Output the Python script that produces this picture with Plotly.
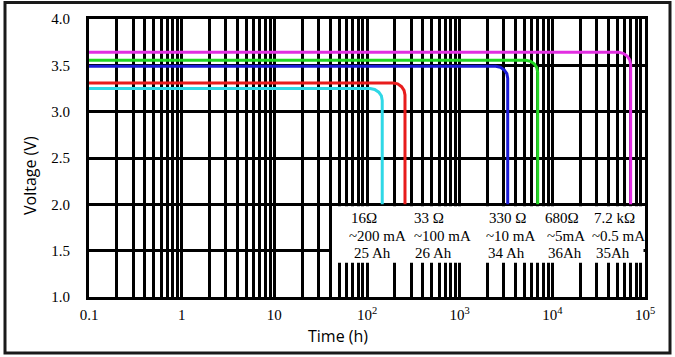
import plotly.graph_objects as go

# ---------------- data ----------------
series_names = ["16 Ω", "33 Ω", "330 Ω", "680 Ω", "7.2 kΩ"]
series_colors = ["#2fd8e6", "#e81c1c", "#1b1bd6", "#22d622", "#e22ee2"]

# discharge curves (flat plateau, rounded knee, drop to 2.0 V)
t_16 = [0.1, 108, 121, 134, 143, 146, 146]
v_16 = [3.25, 3.25, 3.24, 3.21, 3.17, 3.12, 2.0]

t_33 = [0.1, 191, 214, 236, 251, 257, 257]
v_33 = [3.31, 3.31, 3.30, 3.27, 3.23, 3.18, 2.0]

t_330 = [0.1, 2450, 2750, 3030, 3230, 3300, 3300]
v_330 = [3.49, 3.49, 3.48, 3.45, 3.41, 3.36, 2.0]

t_680 = [0.1, 5160, 5780, 6370, 6800, 6950, 6950]
v_680 = [3.555, 3.555, 3.545, 3.517, 3.475, 3.425, 2.0]

t_7k2 = [0.1, 52000, 58200, 64200, 68500, 70000, 70000]
v_7k2 = [3.64, 3.64, 3.63, 3.60, 3.56, 3.51, 2.0]

times = [t_16, t_33, t_330, t_680, t_7k2]
volts = [v_16, v_33, v_330, v_680, v_7k2]

resistances = ["16Ω", "33 Ω", "330 Ω", "680Ω", "7.2 kΩ"]
currents = ["~200 mA", "~100 mA", "~10 mA", "~5mA", "~0.5 mA"]
capacities = ["25 Ah", "26 Ah", "34 Ah", "36Ah", "35Ah"]

decade_labels = ["0.1", "1", "10", "10<sup>2</sup>", "10<sup>3</sup>",
                 "10<sup>4</sup>", "10<sup>5</sup>"]
y_ticks = [1.0, 1.5, 2.0, 2.5, 3.0, 3.5, 4.0]

# ---------------- ticks (grid at every 1..9 x 10^n) ----------------
tickvals, ticktext = [], []
for i, exp in enumerate(range(-1, 5)):
    for m in range(1, 10):
        tickvals.append(m * 10.0 ** exp)
        ticktext.append(decade_labels[i] if m == 1 else " ")
tickvals.append(1e5)
ticktext.append(decade_labels[-1])

SERIF = "Liberation Serif, Times New Roman, serif"
SANS = "Open Sans"

fig = go.Figure()
for name, c, t, v in zip(series_names, series_colors, times, volts):
    fig.add_trace(go.Scatter(x=t, y=v, mode="lines", name=name,
                             line=dict(color=c, width=3),
                             showlegend=False, hoverinfo="skip"))

W, H = 675, 357
L, R, T, B = 89, 30, 19, 60
pw, ph = W - L - R, H - T - B

def px(x):
    return (x - L) / pw

def py(y):
    return (H - B - y) / ph

fig.update_layout(
    width=W, height=H,
    margin=dict(l=L, r=R, t=T, b=B),
    paper_bgcolor="white", plot_bgcolor="white",
    xaxis=dict(type="log", range=[-1, 5], tickmode="array",
               tickvals=tickvals, ticktext=ticktext, tickangle=0,
               showgrid=True, gridcolor="black", gridwidth=2.6,
               showline=True, linecolor="black", linewidth=3, mirror=True,
               ticks="", zeroline=False, ticklabelstandoff=2,
               tickfont=dict(family=SERIF, size=15, color="black")),
    yaxis=dict(range=[1, 4], tickmode="array", tickvals=y_ticks,
               ticktext=[f"{v:.1f}" for v in y_ticks],
               showgrid=True, gridcolor="black", gridwidth=2.8,
               showline=True, linecolor="black", linewidth=3, mirror=True,
               ticks="", zeroline=False, ticklabelstandoff=13,
               tickfont=dict(family=SERIF, size=15, color="black")),
)

# white label box inside the plot
fig.add_shape(type="rect", xref="paper", yref="y",
              x0=px(332), x1=px(643.5), y0=1.37, y1=1.98,
              fillcolor="white", line=dict(width=0), layer="above")

# outer frame
fig.add_shape(type="rect", xref="paper", yref="paper",
              x0=px(5), x1=px(670), y0=py(353), y1=py(2.5),
              line=dict(color="#1a1a1a", width=3), fillcolor="rgba(0,0,0,0)",
              layer="above")

# label annotations
col_x = [[349, 347, 352], [412, 412, 413], [487, 484, 486],
         [543, 545, 546], [592, 590, 594]]
row_y = [218, 236, 253]
for ci in range(5):
    for ri, txt in enumerate([resistances[ci], currents[ci], capacities[ci]]):
        fig.add_annotation(x=px(col_x[ci][ri]), y=py(row_y[ri]),
                           xref="paper", yref="paper", text=txt,
                           showarrow=False, xanchor="left", yanchor="middle",
                           font=dict(family=SERIF, size=15, color="black"))

# axis titles
fig.add_annotation(x=px(30), y=py(176), xref="paper", yref="paper",
                   text="Voltage (V)", textangle=-90, showarrow=False,
                   xanchor="center", yanchor="middle",
                   font=dict(family=SANS, size=16, color="black"))
fig.add_annotation(x=px(338), y=py(336), xref="paper", yref="paper",
                   text="Time (h)", showarrow=False,
                   xanchor="center", yanchor="middle",
                   font=dict(family=SANS, size=16, color="black"))

fig.write_html("out.html", config={"displayModeBar": False},
               post_script="document.body.style.margin='0';"
                           "document.body.style.overflow='hidden';")
